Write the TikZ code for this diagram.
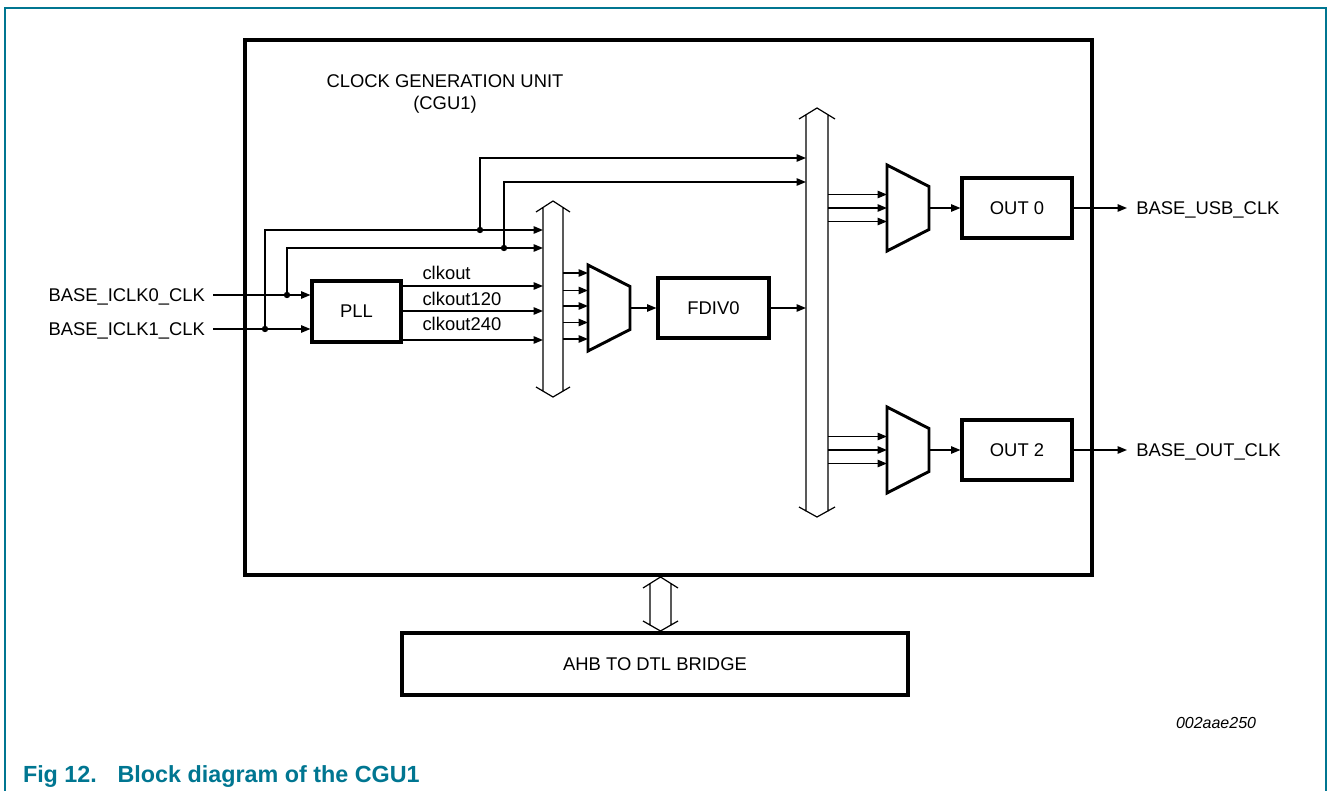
\documentclass[tikz,border=0pt]{standalone}
\usepackage{fontspec}
\setmainfont{Liberation Sans}
\usetikzlibrary{arrows.meta,calc}
\definecolor{nxpteal}{RGB}{0,118,145}

\tikzset{
  blk/.style 2 args={draw,line width=2.3pt,minimum width=#1*0.75pt,minimum height=#2*0.75pt,inner sep=0pt},
  bare/.style={inner sep=0pt,outer sep=0pt},
  sig/.style={line width=1.1pt,-{Triangle[length=7pt,width=5.5pt]}},
  busline/.style={line width=0.9pt},
  pics/mux/.style={code={
    \draw[line width=2.2pt] (0,-43) -- (42,-21.5) -- (42,21.5) -- (0,43) -- cycle;
    \coordinate (-in) at (0,0);
    \coordinate (-out) at (42,0);}}
}

\begin{document}
\begin{tikzpicture}[x=0.75pt,y=-0.75pt,font=\fontsize{13.8}{16.5}\selectfont]
				\useasboundingbox (0,0) rectangle (1328,791);
				\draw[nxpteal,line width=1.2pt] (5,791) -- (5,8) -- (1326,8) -- (1326,791);
				% blocks
				\node[blk={847}{535}] (cgu) at (668.5,307.5) {};
				\node[align=center] (title) at (445,94) {CLOCK GENERATION UNIT\\(CGU1)};
				\node[blk={89}{61}] (pll) at (356.5,311.5) {PLL};
				\node[blk={111}{60}] (fdiv) at (713.5,308) {FDIV0};
				\node[blk={110}{60}] (out0) at (1017,208) {OUT 0};
				\node[blk={110}{60}] (out2) at (1017,450) {OUT 2};
				\node[blk={506}{62}] (bridge) at (655,664) {AHB TO DTL BRIDGE};
				% buses
				\node[bare,minimum width=15pt,minimum height=175*0.75pt] (busA) at (553,299.5) {};
				\node[bare,minimum width=22*0.75pt,minimum height=388*0.75pt] (busB) at (817,313) {};
				\node[bare,minimum width=21*0.75pt,minimum height=33*0.75pt] (link) at (660.5,604.5) {};
				\foreach \b in {busA,busB,link}
				\draw[busline] ($(\b.north west)+(-7,0)$) -- ($(\b.north)+(0,-11)$) -- ($(\b.north east)+(7,0)$)
				($(\b.south west)+(-7,0)$) -- ($(\b.south)+(0,10)$) -- ($(\b.south east)+(7,0)$)
				($(\b.north west)+(0,-4.5)$) -- ($(\b.south west)+(0,4.5)$)
				($(\b.north east)+(0,-4.5)$) -- ($(\b.south east)+(0,4.5)$);
				\pic (m1) at (588,308) {mux};
				\pic (m2) at (887,208) {mux};
				\pic (m3) at (887,450) {mux};
				% inputs
				\node[bare,anchor=base east,outer sep=6pt] (iclk0) at (213,301.5) {BASE\_ICLK0\_CLK};
				\node[bare,anchor=base east,outer sep=6pt] (iclk1) at (213,335.5) {BASE\_ICLK1\_CLK};
				\path
				(287,295) coordinate (j0)
				(265,329) coordinate (j1)
				(504,248) coordinate (j2)
				(480,230) coordinate (j3)
				(504,182) coordinate (k2)
				(480,158) coordinate (k3)
				;
				\draw[sig] (iclk0.east |- j0) -- (j0 -| pll.west);
				\draw[sig] (iclk1.east |- j1) -- (j1 -| pll.west);
				\draw[sig] (j1) |- (j3) -- (j3 -| busA.west);
				\draw[sig] (j0) |- (j2) -- (j2 -| busA.west);
				\draw[sig] (j3) -- (k3) -- (k3 -| busB.west);
				\draw[sig] (j2) -- (k2) -- (k2 -| busB.west);
				\foreach \j in {j0,j1,j2,j3}\fill (\j) circle[radius=2.4pt];
				% pll outputs
				\foreach \d/\t/\n/\h in {-25.5/clkout/o1/-6,-0.5/clkout120/o2/-5.5,28.5/clkout240/o3/-9}{
					\draw[sig] ($(pll.east)+(0,\d)$) coordinate (\n) -- (\n -| busA.west);
					\node[bare,anchor=base west] at ($(\n)+(20,\h)$) {\t};
				}
				\foreach \d in {-35,-17.5,-2,14.5,31}
				\draw[sig] ($(busA.east |- m1-in)+(0,\d)$) -- ($(m1-in)+(0,\d)$);
				\draw[sig] (m1-out) -- (m1-out -| fdiv.west);
				\draw[sig] (fdiv.east) -- (fdiv.east -| busB.west);
				\foreach \m in {m2,m3}{
					\foreach \d in {-13.5,0,13.5}
					\draw[sig] ($(busB.east |- \m-in)+(0,\d)$) -- ($(\m-in)+(0,\d)$);
				}
				\draw[sig] (m2-out) -- (m2-out -| out0.west);
				\draw[sig] (m3-out) -- (m3-out -| out2.west);
				% outputs
				\node[bare,anchor=base west,outer sep=7pt] (usb) at (1127,214.5) {BASE\_USB\_CLK};
				\node[bare,anchor=base west,outer sep=7pt] (outclk) at (1127,456.5) {BASE\_OUT\_CLK};
				\draw[sig] (out0.east) -- (out0.east -| usb.west);
				\draw[sig] (out2.east) -- (out2.east -| outclk.west);
				% caption
				\node[bare,anchor=base west,font=\fontsize{12}{14}\selectfont\itshape] (tag) at (1176,728) {002aae250};
				\node[bare,anchor=base west,text=nxpteal,font=\fontsize{17.5}{20}\selectfont\bfseries] (cap) at (23,782) {Fig 12.\hspace{15.5pt}Block diagram of the CGU1};
			\end{tikzpicture}
\end{document}
